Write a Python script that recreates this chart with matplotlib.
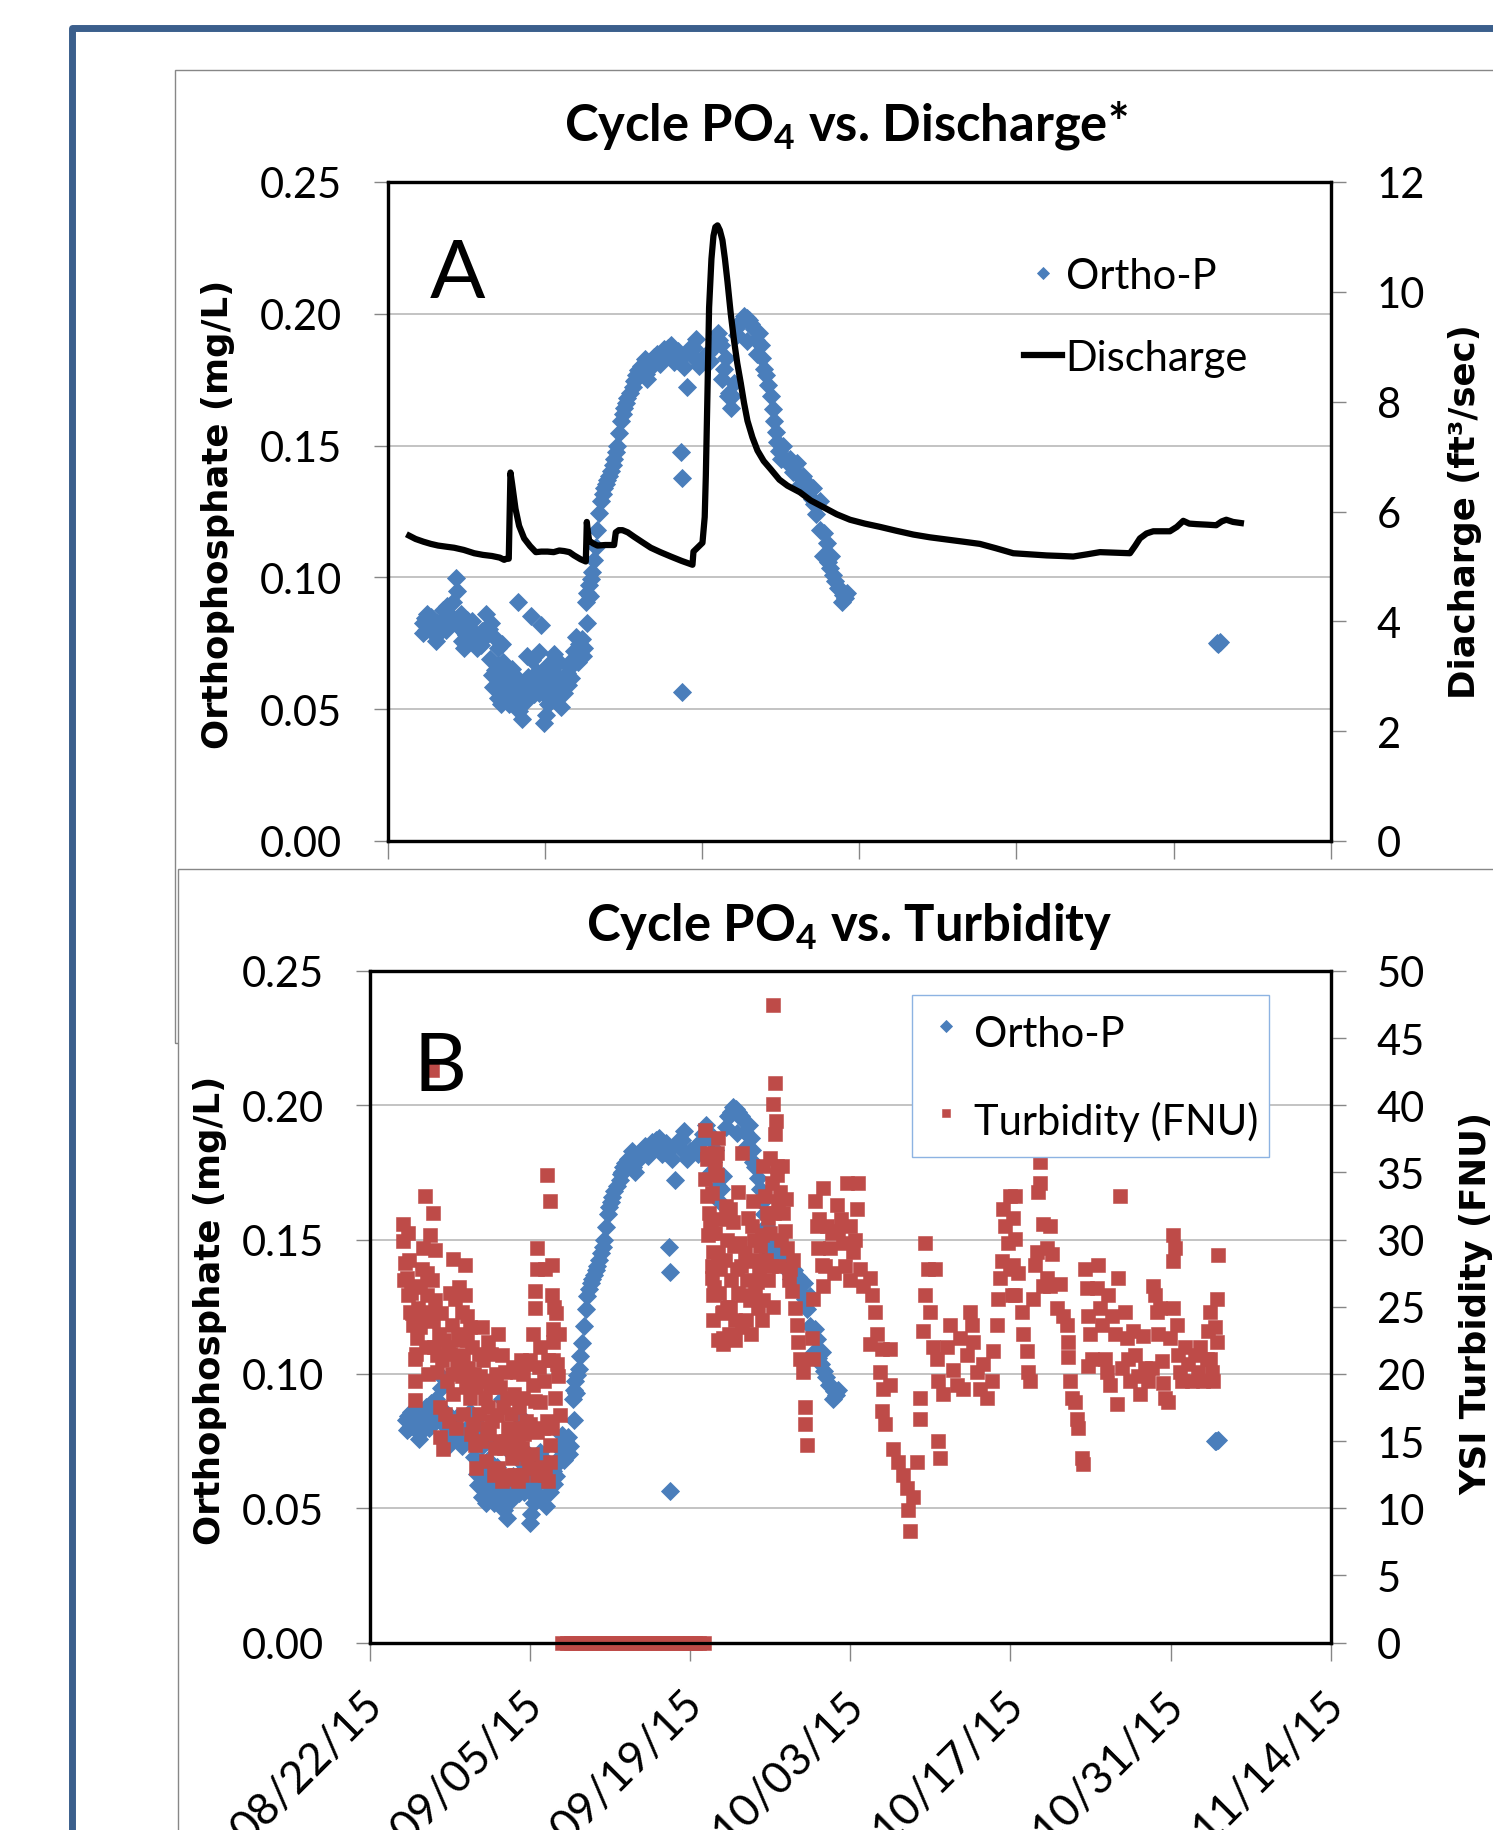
"""
Cycle PO4 vs. Discharge / Turbidity
两幅叠放的 Excel 风格散点图
"""

import matplotlib
matplotlib.use("Agg")
import matplotlib.pyplot as plt
from matplotlib.patches import Rectangle
from matplotlib.ticker import FormatStrFormatter
from matplotlib.transforms import ScaledTranslation

plt.rcParams["font.family"] = ["Lato", "DejaVu Sans"]
plt.rcParams["mathtext.fontset"] = "custom"
plt.rcParams["mathtext.rm"] = "Lato"
plt.rcParams["mathtext.bf"] = "Lato:bold"

# ---- data (x = days since 08/22/15) ----
TICK_DAYS = [0, 14, 28, 42, 56, 70, 84]
TICK_LABELS = ["08/22/15", "09/05/15", "09/19/15", "10/03/15", "10/17/15", "10/31/15", "11/14/15"]

ORTHO_DAY = [
    3.12, 3.3, 3.56, 3.7, 3.86, 4.0, 4.3, 4.45, 4.6, 4.9, 5.1, 5.34, 5.5, 5.79, 6.08, 6.23,
    6.38, 6.53, 6.83, 7.0, 7.27, 7.5, 7.72, 8.01, 8.2, 8.46, 8.76, 9.0, 9.2, 9.35, 9.5, 9.8,
    9.8, 9.8, 10.0, 10.24, 10.24, 10.5, 10.69, 10.9, 11.13, 11.43, 11.58, 11.72, 12.02, 12.2,
    12.47, 12.76, 12.91, 13.06, 13.3, 13.5, 13.65, 13.8, 13.95, 14.1, 14.25, 14.54, 14.7,
    14.84, 14.99, 15.2, 15.43, 15.58, 15.8, 16.03, 16.25, 16.47, 16.77, 16.9, 17.07, 17.3,
    17.51, 17.72, 17.81, 17.81, 17.96, 18.1, 18.25, 18.4, 18.55, 18.7, 18.85, 19.0, 19.15,
    19.29, 19.45, 19.59, 19.75, 19.89, 20.05, 20.18, 20.33, 20.48, 20.63, 20.78, 20.93, 21.07,
    21.2, 21.37, 21.6, 21.82, 21.95, 22.11, 22.3, 22.56, 22.8, 23.0, 23.15, 23.3, 23.45, 23.75,
    24.04, 24.3, 24.64, 24.9, 25.23, 25.53, 25.8, 26.12, 26.12, 26.27, 26.27, 26.4, 26.71,
    26.86, 27.1, 27.46, 27.75, 28.0, 28.2, 28.5, 28.94, 29.15, 29.39, 29.55, 29.68, 29.83,
    30.0, 30.13, 30.28, 30.45, 30.57, 30.87, 31.1, 31.31, 31.55, 31.76, 32.0, 32.06, 32.2,
    32.4, 32.65, 32.95, 33.1, 33.39, 33.5, 33.69, 33.9, 34.13, 34.3, 34.43, 34.6, 34.73, 34.9,
    35.03, 35.2, 35.45, 35.84, 36.1, 36.43, 36.8, 37.03, 37.3, 37.6, 37.92, 37.8, 38.2, 38.51,
    38.51, 38.81, 38.9, 39.11, 39.4, 39.5, 39.85, 40.1, 40.29, 40.44, 40.75, 40.89,
    73.9, 74.0, 74.15,
    3.4, 4.2, 5.6, 6.6, 7.1, 8.3, 9.6, 10.1, 10.4, 11.0, 11.3, 12.3, 12.7, 13.2, 14.4, 15.0,
    15.7, 16.1, 16.6, 17.4,
    3.2, 3.9, 4.7, 5.2, 6.0, 6.9, 7.6, 8.6, 9.1, 9.4, 10.3, 10.8, 11.5, 11.9, 12.4, 13.0, 13.5,
    14.0, 14.3, 15.3, 16.3, 17.0, 18.0, 22.0, 22.9, 24.5, 25.0, 25.9, 27.3, 28.7, 30.7, 31.4,
    32.8, 33.3, 36.2, 36.6, 37.4, 38.0, 39.2, 39.7, 40.6,
]
ORTHO_MGL = [
    .0828, .0845, .086, .0815, .0797, .0835, .0757, .0828, .079, .0876, .0845, .0892, .086,
    .0908, .0996, .0948, .0813, .086, .0733, .078, .0813, .0835, .078, .0733, .0765, .0797,
    .086, .0805, .0828, .0629, .0773, .0733, .0669, .0541, .0605, .0749, .0589, .0645, .0621,
    .0575, .0653, .0573, .0908, .0494, .0462, .06, .0621, .0852, .0685, .0557, .064, .0717,
    .082, .0621, .0446, .0478, .0669, .0589, .064, .0709, .0541, .06, .051, .0589, .061,
    .0637, .066, .0685, .0773, .072, .0749, .0765, .0733, .0908, .0828, .094, .0972, .0995,
    .102, .1067, .1115, .1179, .1243, .1291, .1315, .1339, .1355, .137, .1385, .1402, .1425,
    .145, .1474, .1498, .1546, .1594, .162, .1641, .166, .1681, .17, .1721, .1745, .1769,
    .1785, .1801, .179, .177, .1753, .179, .1817, .1835, .1849, .181, .1865, .185, .188,
    .1817, .1825, .1833, .1474, .1378, .0565, .18, .1721, .1865, .184, .1904, .1801, .183,
    .1833, .185, .1865, .1895, .1928, .19, .188, .1753, .179, .1833, .1689, .17, .1641,
    .1737, .192, .196, .1975, .1992, .1985, .1896, .1976, .196, .1944, .1849, .1928, .1833,
    .179, .1769, .173, .1689, .164, .1594, .155, .1514, .148, .145, .15, .144, .145, .14,
    .1434, .1355, .1386, .133, .133, .1339, .1297, .124, .1291, .1179, .1083, .1167, .1131,
    .1036, .108, .0988, .096, .0956, .0908, .092, .094,
    .0752, .0749, .0755,
    .08, .081, .0825, .076, .084, .0745, .065, .052, .0555, .061, .054, .053, .058, .06, .054,
    .062, .056, .059, .072, .07,
    .079, .085, .082, .08, .084, .079, .076, .077, .069, .0585, .068, .052, .062, .056, .07,
    .06, .056, .058, .052, .068, .062, .068, .093, .175, .183, .183, .187, .186, .187, .182,
    .169, .196, .19, .188, .143, .139, .136, .128, .106, .101, .0935,
]

Q_DAY = [
    1.93, 2.5, 3.2, 3.86, 4.5, 5.2, 5.94, 6.8, 7.72, 8.5, 9.3, 10.0, 10.39, 10.6, 10.8, 10.95,
    11.1, 11.4, 11.72, 12.17, 12.7, 13.21, 13.7, 14.25, 14.8, 15.3, 15.73, 16.2, 16.62, 17.2,
    17.66, 17.7, 17.75, 17.85, 17.96, 18.3, 18.7, 19.4, 20.18, 20.33, 20.6, 20.93, 21.4,
    21.96, 22.7, 23.45, 24.3, 25.23, 26.2, 27.16, 27.25, 27.5, 28.05, 28.25, 28.35, 28.5,
    28.64, 28.85, 29.03, 29.2, 29.39, 29.6, 29.83, 30.05, 30.28, 30.57, 30.87, 31.15, 31.46,
    31.75, 32.06, 32.5, 32.95, 33.5, 34.13, 34.9, 35.62, 36.73, 37.7, 38.81, 40.0, 41.19,
    42.5, 43.86, 45.3, 46.83, 48.3, 49.8, 51.3, 52.76, 54.2, 55.73, 57.2, 58.7, 60.0, 61.07,
    62.3, 63.45, 64.8, 66.12, 66.6, 67.01, 67.6, 68.2, 69.0, 69.68, 70.3, 70.87, 71.4, 72.06,
    73.0, 73.8, 74.3, 74.7, 75.3, 76.0,
]
Q_CFS = [
    5.56, 5.5, 5.45, 5.41, 5.38, 5.36, 5.34, 5.3, 5.24, 5.21, 5.19, 5.16, 5.12, 5.14, 5.14,
    6.71, 6.5, 6.05, 5.74, 5.51, 5.37, 5.26, 5.27, 5.27, 5.26, 5.29, 5.28, 5.26, 5.2, 5.13,
    5.09, 5.4, 5.81, 5.62, 5.47, 5.42, 5.38, 5.39, 5.39, 5.62, 5.66, 5.66, 5.62, 5.54, 5.44,
    5.34, 5.26, 5.18, 5.1, 5.03, 5.27, 5.32, 5.43, 5.9, 6.65, 8.2, 9.71, 10.6, 11.02, 11.18,
    11.21, 11.12, 10.94, 10.6, 10.18, 9.6, 9.1, 8.7, 8.34, 7.98, 7.65, 7.35, 7.11, 6.92, 6.77,
    6.58, 6.47, 6.35, 6.2, 6.08, 5.95, 5.85, 5.78, 5.72, 5.65, 5.58, 5.53, 5.49, 5.45, 5.41,
    5.33, 5.24, 5.22, 5.2, 5.19, 5.18, 5.22, 5.26, 5.25, 5.24, 5.38, 5.51, 5.6, 5.64, 5.64,
    5.64, 5.72, 5.83, 5.78, 5.77, 5.76, 5.75, 5.82, 5.85, 5.81, 5.79,
]

TURB_DAY = [
    2.91, 2.91, 3.06, 3.21, 3.35, 3.5, 3.79, 3.93, 3.93, 3.93, 4.08, 4.23, 4.37, 4.52, 4.66,
    4.81, 4.95, 5.25, 5.25, 5.39, 5.54, 5.54, 5.68, 5.83, 5.83, 6.12, 6.12, 6.41, 6.7, 6.85,
    7.14, 7.29, 7.43, 7.72, 8.02, 8.02, 8.16, 8.31, 8.31, 8.45, 8.6, 8.74, 9.04, 9.18, 9.62,
    10.06, 10.35, 10.78, 11.08, 11.22, 11.37, 11.51, 11.8, 11.95, 12.24, 12.39, 12.82, 12.97,
    13.26, 13.41, 13.7, 13.84, 13.99, 14.28, 14.28, 14.43, 14.43, 14.57, 14.57, 14.57, 14.86,
    15.01, 15.3, 15.45, 15.74, 15.74, 15.74, 15.88, 15.88, 15.88, 16.03, 16.03, 16.18, 16.32,
    16.47, 16.61,
    6.3, 6.6, 7.0, 7.3, 7.6, 7.9, 8.9, 9.3, 9.5, 9.9, 10.2, 10.5, 10.9, 11.6, 12.1, 12.6, 13.0,
    13.5, 3.6, 3.4, 4.1, 4.4, 5.0, 5.4, 5.7, 6.0, 7.0, 7.8, 8.5, 9.8, 10.6, 11.4, 12.5, 13.2,
    14.0, 14.9, 15.2, 15.5, 16.0, 16.3,
    8.8, 9.3, 9.7, 10.1, 10.4, 10.8, 11.2, 11.7, 12.0, 12.6, 12.9, 13.3, 13.6, 14.2, 14.6,
    15.1, 15.3, 15.6,
    3.0, 3.3, 3.7, 4.0, 4.6, 4.9, 5.1, 5.6, 6.2, 6.5, 6.9, 7.2, 7.5, 8.1, 8.4, 8.7, 9.1, 9.5,
    10.0, 10.3, 10.7, 11.0, 11.5, 11.9, 12.3, 12.7, 13.1, 13.4, 13.9, 14.4, 14.8, 15.6, 16.1,
    16.5,
    # sensor zero readings
    16.8, 17.2, 17.6, 18.0, 18.4, 18.8, 19.2, 19.6, 20.0, 20.4, 20.8, 21.2, 21.6, 22.0, 22.4,
    22.8, 23.2, 23.6, 24.0, 24.4, 24.8, 25.2, 25.6, 26.0, 26.4, 26.8, 27.2, 27.6, 28.0, 28.4,
    28.8, 29.2,
    35.27, 35.41, 35.27, 35.5, 35.41, 29.29, 30.46, 29.44, 30.31, 32.5, 29.29, 30.31, 29.44,
    29.73, 29.58, 30.02, 29.87, 30.02, 30.9, 30.9, 30.9, 30.6, 31.48, 31.77, 32.21, 32.35,
    32.06, 32.64, 33.08, 33.37, 33.81, 33.96, 33.52, 34.25, 34.39, 34.54, 34.83, 34.97, 35.12,
    35.56, 35.7, 35.85, 36.14, 36.29, 36.43, 36.72, 36.87, 37.16, 37.31, 37.45, 37.6, 37.89,
    38.62, 38.76, 38.76, 38.04, 38.04, 38.18, 38.91, 39.06, 39.64, 39.2, 39.49, 39.64, 39.93,
    40.22, 40.8, 40.95, 41.39, 41.68, 41.97, 42.26, 42.7, 42.55, 42.84, 43.14, 43.72, 43.86,
    44.16, 44.3, 43.72, 44.74, 45.47, 44.6, 44.89, 45.47, 44.74, 45.03, 45.76, 46.2, 46.63,
    46.92, 47.07, 47.22, 47.51, 47.8, 48.09, 48.09, 48.53, 48.82, 49.4, 48.53, 48.97, 48.38,
    49.69, 49.84, 49.26, 49.55, 49.69, 50.13, 50.42, 50.71, 51.01, 51.3, 51.59, 51.88, 52.17,
    52.46, 52.61, 52.75, 53.05, 53.34, 53.63, 53.92, 54.36, 54.5, 54.79, 54.94, 55.09, 55.23,
    55.38, 55.52, 55.81, 55.96, 56.11, 56.4,
    29.6, 29.9, 30.2, 30.5, 30.7, 31.0, 31.2, 31.6, 31.9, 32.2, 32.8, 33.2, 33.6, 34.0, 34.6,
    35.0, 35.3, 35.6, 29.9, 30.2, 31.2,
    30.0, 30.4, 31.4, 31.8, 32.5, 33.0, 33.3, 33.7, 34.1, 34.4, 34.8, 35.1, 35.9, 36.0, 36.4,
    29.5, 29.8, 30.1, 30.4, 30.8, 31.1, 31.5, 31.9, 32.4, 32.9, 33.4, 33.8, 34.3, 34.7, 35.2,
    35.8, 36.6, 37.0, 39.3, 39.8, 40.4, 40.6, 41.2, 41.5, 42.0, 42.4,
    55.96, 56.25, 56.4, 56.25, 56.69, 56.4, 56.98, 57.13, 57.42, 57.56, 57.71, 58.0, 58.15,
    58.29, 58.44, 58.58, 58.58, 58.87, 59.46, 59.17, 59.6, 59.17, 58.87, 59.46, 60.04, 60.33,
    60.62, 60.92, 61.06, 61.06, 61.21, 61.35, 61.64, 61.79, 61.93, 62.23, 62.37, 62.52, 62.66,
    62.81, 62.95, 62.81, 63.1, 63.54, 63.68, 63.83, 63.97, 64.27, 64.41, 64.56, 64.7, 64.85,
    65.14, 65.29, 65.43, 65.58, 65.72, 66.01, 66.16, 66.31, 66.45, 66.74, 66.89, 67.18, 67.33,
    67.62, 67.76, 68.06, 68.35, 68.49, 68.64, 68.78, 68.93, 69.08, 69.22, 69.37, 69.51, 69.8,
    69.95, 70.24, 70.24, 70.24, 70.39, 70.53, 70.68, 70.82, 70.97, 71.26, 71.55, 71.84, 72.14,
    72.43, 72.57, 72.86, 73.16, 73.3, 73.45, 73.59, 73.74, 73.88, 74.03, 74.03, 74.18, 73.45,
]
TURB_FNU = [
    31.15, 29.87, 28.27, 27.16, 25.88, 24.6, 23.64, 21.09, 19.49, 18.05, 22.68, 24.92, 26.52,
    27.8, 29.39, 33.23, 25.88, 30.35, 24.6, 42.65, 31.95, 23.96, 29.23, 21.41, 20.13, 17.57,
    15.33, 14.38, 19.49, 22.04, 23.64, 28.59, 25.56, 23.0, 24.6, 19.81, 21.41, 28.11, 25.88,
    24.28, 20.45, 18.21, 16.29, 14.7, 19.81, 18.21, 22.36, 19.49, 16.93, 23.0, 15.02, 21.41,
    20.13, 18.21, 12.14, 13.74, 20.13, 15.02, 12.46, 18.21, 13.74, 20.77, 16.29, 19.17, 23.0,
    26.2, 24.92, 29.39, 27.8, 15.65, 17.89, 13.1, 27.8, 34.82, 32.91, 13.42, 14.7, 25.88,
    28.11, 15.97, 23.32, 22.36, 18.21, 20.77, 19.81, 16.93,
    21.0, 17.0, 21.5, 18.5, 20.5, 22.5, 22.0, 19.0, 17.0, 21.0, 16.0, 19.0, 14.5, 17.5, 16.0,
    18.5, 17.5, 15.5, 26.0, 28.5, 26.5, 23.5, 27.5, 27.0, 25.5, 23.0, 26.0, 26.5, 22.5, 23.5,
    21.5, 19.0, 20.5, 21.0, 21.0, 22.0, 19.5, 16.5, 21.0, 24.5,
    15.5, 13.0, 15.0, 13.5, 15.5, 12.5, 13.0, 14.5, 12.5, 14.0, 12.0, 14.5, 16.5, 14.0, 12.5,
    16.0, 12.5, 12.0,
    27.0, 30.5, 24.5, 21.5, 24.0, 22.0, 20.0, 22.0, 24.5, 22.5, 16.5, 20.0, 16.0, 17.0, 19.0,
    23.5, 20.0, 21.5, 19.5, 17.5, 16.5, 20.0, 12.0, 15.0, 17.0, 12.5, 16.0, 20.0, 13.0, 18.0,
    20.5, 21.0, 25.0, 23.0,
    0, 0, 0, 0, 0, 0, 0, 0, 0, 0, 0, 0, 0, 0, 0, 0, 0, 0, 0, 0, 0, 0, 0, 0, 0, 0, 0, 0, 0, 0,
    0, 0,
    47.44, 41.69, 40.1, 38.82, 37.86, 38.18, 37.54, 36.42, 36.42, 36.42, 34.5, 34.82, 33.23,
    31.31, 30.35, 29.07, 27.16, 25.88, 24.6, 22.68, 22.2, 27.8, 32.27, 31.31, 33.55, 29.71,
    27.8, 25.88, 31.63, 28.43, 26.84, 24.92, 32.91, 30.35, 35.46, 33.23, 31.63, 36.1, 34.18,
    34.82, 32.91, 33.55, 31.95, 30.67, 29.39, 27.8, 26.2, 24.92, 23.64, 22.36, 21.09, 20.13,
    22.68, 25.56, 21.09, 17.57, 16.29, 14.7, 32.91, 31.0, 33.87, 29.39, 28.11, 26.52, 31.0,
    29.39, 32.59, 30.67, 29.71, 34.18, 31.0, 29.07, 34.18, 32.27, 27.8, 26.52, 27.16, 25.88,
    24.6, 23.0, 22.2, 21.89, 21.89, 20.13, 18.85, 19.17, 17.25, 16.29, 14.38, 13.42, 12.46,
    11.5, 9.9, 8.31, 10.86, 13.42, 16.61, 18.21, 29.71, 27.8, 27.8, 25.88, 24.6, 23.16,
    15.02, 13.74, 22.04, 21.09, 19.49, 18.53, 22.04, 23.64, 20.29, 19.17, 22.68, 18.85, 21.41,
    24.6, 23.64, 22.36, 20.13, 18.85, 20.77, 18.21, 19.49, 21.73, 23.64, 25.56, 27.16, 28.43,
    32.27, 31.0, 29.71, 27.8, 25.88, 33.23,
    32.0, 28.0, 30.5, 26.0, 31.5, 28.5, 25.0, 27.0, 24.0, 26.0, 29.0, 25.5, 30.0, 27.5, 28.5,
    30.5, 32.0, 35.5, 33.5, 35.5, 30.0,
    24.0, 22.5, 23.0, 29.5, 23.5, 27.0, 23.0, 26.0, 29.5, 25.5, 27.0, 28.0, 30.0, 35.5, 33.0,
    36.0, 30.5, 26.5, 29.0, 24.5, 32.5, 25.0, 22.5, 28.0, 24.0, 31.0, 28.5, 24.0, 32.0, 25.0,
    28.0, 27.0, 28.5, 31.5, 28.0, 30.5, 27.5, 31.5, 28.0, 27.0, 30.0,
    33.23, 31.63, 30.03, 28.11, 27.48, 25.88, 24.6, 23.0, 21.73, 20.13, 19.49, 25.56, 28.11,
    29.07, 33.55, 34.18, 35.78, 31.15, 31.0, 29.39, 28.91, 27.16, 26.52, 26.52, 24.92, 26.68,
    24.28, 23.64, 22.36, 21.25, 19.49, 18.21, 17.89, 16.61, 15.97, 13.74, 13.26, 27.8, 26.36,
    24.28, 23.0, 20.61, 21.09, 26.36, 28.11, 24.92, 23.64, 21.09, 20.13, 25.88, 19.17, 24.28,
    23.0, 17.73, 27.16, 33.23, 20.45, 24.6, 22.68, 21.09, 19.49, 23.16, 21.41, 19.81, 18.53,
    22.84, 20.45, 19.49, 20.45, 26.52, 25.88, 24.6, 23.0, 24.92, 20.93, 19.33, 18.21, 17.89,
    22.68, 24.92, 30.35, 28.43, 29.39, 23.64, 21.41, 20.13, 19.49, 22.04, 20.77, 19.49, 21.41,
    20.13, 22.04, 19.49, 21.09, 23.16, 24.6, 20.13, 19.49, 23.48, 22.36, 25.56, 28.82, 21.09,
]

BLUE = "#4a7ebb"
RED = "#be4b48"
GRID = "#b3b3b3"
TICKC = "#868686"

W, H = 1493, 1831


def fx(px):
    return px / W


def fy(py):
    return 1 - py / H


fig = plt.figure(figsize=(W / 100, H / 100), dpi=100)

# outer blue frame and the two Excel chart boxes
fig.patches.append(Rectangle((fx(72), fy(2000)), (1700 - 72) / W, (2000 - 29) / H,
                             transform=fig.transFigure, fill=False, edgecolor="#3b5f8c",
                             lw=5, joinstyle="round", zorder=1))
fig.patches.append(Rectangle((fx(175), fy(1044)), (1700 - 175) / W, (1044 - 71) / H,
                             transform=fig.transFigure, fill=False, edgecolor="#878787",
                             lw=1.0, zorder=-3))
fig.patches.append(Rectangle((fx(178), fy(2000)), (1700 - 178) / W, (2000 - 870) / H,
                             transform=fig.transFigure, facecolor="white", edgecolor="#878787",
                             lw=1.0, zorder=-2))


def style_axes(ax, ax2, show_xlabels):
    ax.set_xlim(0, 84)
    ax.set_xticks(TICK_DAYS)
    ax.set_ylim(0, 0.25)
    ax.set_yticks([0, 0.05, 0.10, 0.15, 0.20, 0.25])
    ax.yaxis.set_major_formatter(FormatStrFormatter("%.2f"))
    ax.yaxis.grid(True, color=GRID, lw=1.1)
    ax.set_axisbelow(True)
    ax.tick_params(axis="y", direction="out", length=10, width=1, color=TICKC,
                   labelsize=30, pad=23)
    ax.tick_params(axis="x", direction="out", length=13, width=1, color=TICKC,
                   labelsize=32, pad=16, labelbottom=show_xlabels)
    ax2.tick_params(axis="y", direction="out", length=11, width=1, color=TICKC,
                    labelsize=30, pad=22)
    for a in (ax, ax2):
        for s in a.spines.values():
            s.set_linewidth(2.3)
            s.set_color("black")
    if show_xlabels:
        ax.set_xticklabels(TICK_LABELS, rotation=45, ha="right", va="top")
        shift = ScaledTranslation(0.21, 0, fig.dpi_scale_trans)
        for lab in ax.get_xticklabels():
            lab.set_transform(lab.get_transform() + shift)


# ---- chart A: Ortho-P vs discharge ----
axA = fig.add_axes([fx(387.5), fy(842), (1330.7 - 387.5) / W, (842 - 183) / H])
axA2 = axA.twinx()
hA1, = axA.plot(ORTHO_DAY, ORTHO_MGL, ls="none", marker="D", ms=9.2, color=BLUE,
                mec=BLUE, mew=0.6, label="Ortho-P")
hA2, = axA2.plot(Q_DAY, Q_CFS, color="black", lw=4.5, solid_joinstyle="round",
                 label="Discharge")
axA2.set_ylim(0, 12)
axA2.set_yticks(range(0, 13, 2))
style_axes(axA, axA2, False)
axA2.legend([hA1, hA2], ["Ortho-P", "Discharge"], loc="upper left",
            bbox_to_anchor=(fx(1024), fy(258)), bbox_transform=fig.transFigure,
            frameon=False, fontsize=30, borderpad=0, borderaxespad=0,
            handlelength=0.9, handletextpad=0.1, labelspacing=1.05, markerscale=0.65)

fig.text(fx(846), fy(140), r"Cycle PO$_\mathbf{4}$ vs. Discharge*", ha="center",
         va="baseline", fontsize=36.5, fontweight="bold")
fig.text(fx(430), fy(298), "A", fontsize=59, ha="left", va="baseline")
fig.text(fx(218), fy(514), "Orthophosphate (mg/L)", rotation=90, ha="center", va="center",
         family="DejaVu Sans", weight="bold", fontsize=25.6)
fig.text(fx(1465), fy(512), "Diacharge (ft³/sec)", rotation=90, ha="center", va="center",
         family="DejaVu Sans", weight="bold", fontsize=25.6)

# ---- chart B: Ortho-P vs turbidity ----
axB = fig.add_axes([fx(370), fy(1643.5), (1330.7 - 370) / W, (1643.5 - 972) / H])
axB2 = axB.twinx()
hB1, = axB.plot(ORTHO_DAY, ORTHO_MGL, ls="none", marker="D", ms=9.2, color=BLUE,
                mec=BLUE, mew=0.6, label="Ortho-P")
hB2, = axB2.plot(TURB_DAY, TURB_FNU, ls="none", marker="s", ms=9.8, color=RED,
                 mec=RED, mew=0.4, clip_on=False, label="Turbidity (FNU)")
axB2.set_ylim(0, 50)
axB2.set_yticks(range(0, 51, 5))
style_axes(axB, axB2, True)
legB = axB2.legend([hB1, hB2], ["Ortho-P", "Turbidity (FNU)"], loc="upper left",
                   bbox_to_anchor=(fx(912), fy(996)), bbox_transform=fig.transFigure,
                   fontsize=30, borderpad=0.25, borderaxespad=0, fancybox=False,
                   framealpha=1, edgecolor="#8db3e2", handlelength=1.15, handleheight=1.6,
                   handletextpad=0.1, labelspacing=0.82, markerscale=0.65)
legB.get_frame().set_linewidth(1.0)

fig.text(fx(849), fy(941), r"Cycle PO$_\mathbf{4}$ vs. Turbidity", ha="center",
         va="baseline", fontsize=36.5, fontweight="bold")
fig.text(fx(414), fy(1091), "B", fontsize=59, ha="left", va="baseline")
fig.text(fx(210), fy(1310), "Orthophosphate (mg/L)", rotation=90, ha="center", va="center",
         family="DejaVu Sans", weight="bold", fontsize=25.6)
fig.text(fx(1476), fy(1304), "YSI Turbidity (FNU)", rotation=90, ha="center", va="center",
         family="DejaVu Sans", weight="bold", fontsize=25.6)

fig.savefig("out.png", dpi=100)
